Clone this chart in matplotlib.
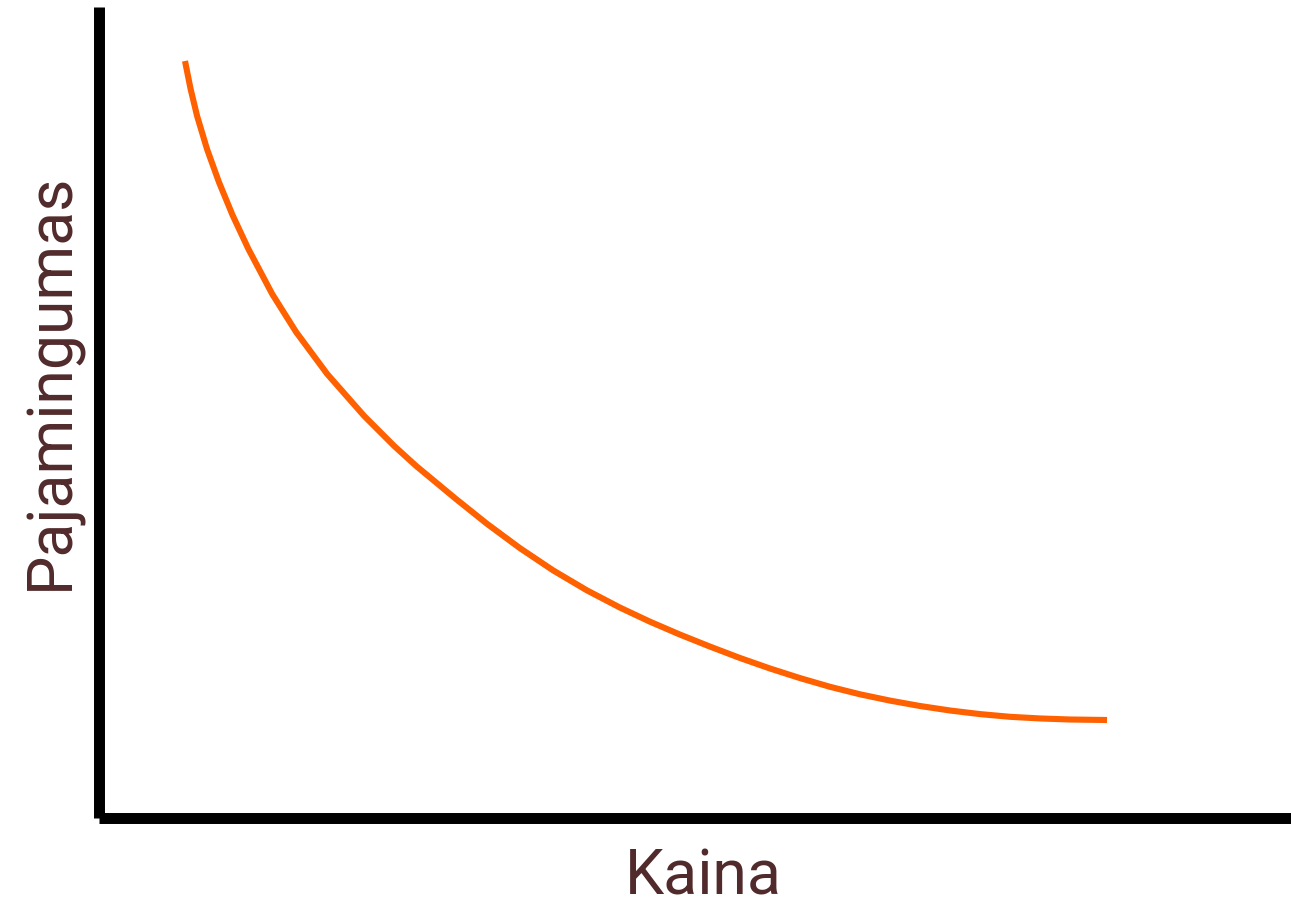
import matplotlib
matplotlib.use("Agg")
import matplotlib.pyplot as plt

# Curve values (arbitrary units: x = price, y = income)
kaina = [86.5, 92.1, 98.6, 108.5, 120.4, 134.0, 149.9, 173.7, 197.6, 228.7,
         265.7, 295.7, 317.7, 357.5, 388.5, 421.5, 454.5, 488.5, 521.5, 551.5,
         581.5, 611.5, 641.5, 671.5, 701.5, 731.5, 761.5, 791.5, 821.5, 851.5,
         881.5, 911.5, 941.5, 971.5, 1008.5]
pajamingumas = [756.5, 728.5, 701.5, 668.5, 635.5, 602.5, 568.5, 523.5, 485.5,
                443.5, 401.5, 371.5, 351.5, 318.5, 293.7, 269.3, 247.2, 227.1,
                209.9, 195.8, 182.9, 170.9, 159.5, 149.0, 139.4, 130.7, 123.2,
                116.9, 111.5, 107.0, 103.4, 100.7, 99.05, 98.0, 97.5]

x_label = "Kaina"
y_label = "Pajamingumas"

W, H = 1291, 903
fig = plt.figure(figsize=(W / 100, H / 100), dpi=100)
left_px, bottom_px, top_px = 98.5, 818.5, 8
ax = fig.add_axes([left_px / W, (H - bottom_px) / H,
                   (W - left_px) / W, (bottom_px - top_px) / H])

ax.plot(kaina, pajamingumas, color="#FF6000", linewidth=4.4,
        solid_capstyle="butt", solid_joinstyle="round")

ax.set_xlim(0, W - left_px)
ax.set_ylim(0, bottom_px - top_px)
ax.set_xticks([])
ax.set_yticks([])
for s in ("top", "right"):
    ax.spines[s].set_visible(False)
for s in ("left", "bottom"):
    ax.spines[s].set_linewidth(7.9)
    ax.spines[s].set_color("black")
    ax.spines[s].set_capstyle("butt")

label_color = "#512A2B"
fig.text(703 / W, (H - 895) / H, x_label, fontsize=45, family="Roboto",
         color=label_color, ha="center", va="baseline")
fig.text(68 / W, (H - 381) / H, y_label, fontsize=45, family="Roboto",
         color=label_color, ha="center", va="baseline", rotation=90,
         rotation_mode="anchor")

fig.savefig("out.png", dpi=100, facecolor="white")
